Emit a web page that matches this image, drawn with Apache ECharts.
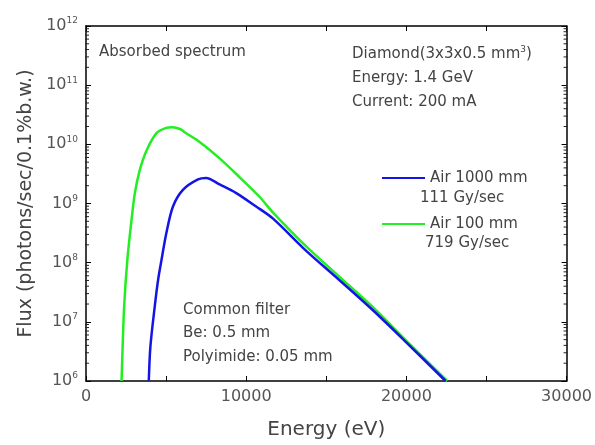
<!DOCTYPE html>
<html>
<head>
<meta charset="utf-8">
<script src="https://cdn.jsdelivr.net/npm/echarts@6/dist/echarts.min.js"></script>
<style>
  html, body { margin: 0; padding: 0; background: #fff; }
  #chartmain { width: 595px; height: 445px; }
</style>
</head>
<body>
<div id="chartmain"></div>
<script>
// Air 1000 mm (blue)
var blueEnergy = [3920, 4020, 4290, 4500, 4710, 5020, 5430, 6050, 6990, 7500, 8340, 9380, 10620, 11660, 13730, 15810, 17880, 19960, 22450];
var blueFlux   = [1.0e6, 3.8e6, 1.8e7, 5.1e7, 1.1e8, 3.2e8, 8.9e8, 1.7e9, 2.55e9, 2.7e9, 2.1e9, 1.5e9, 8.9e8, 5.6e8, 1.6e8, 5.1e7, 1.6e7, 4.6e6, 1.0e6];
// Air 100 mm (green)
var greenEnergy = [2220, 2280, 2380, 2580, 2840, 3050, 3360, 3780, 4400, 5000, 5400, 5900, 6160, 7090, 8340, 9580, 10830, 11660, 13730, 15810, 17880, 19960, 22550];
var greenFlux   = [1.0e6, 3.3e6, 1.8e7, 1.1e8, 5.2e8, 1.5e9, 3.7e9, 7.9e9, 1.55e10, 1.9e10, 1.95e10, 1.8e10, 1.6e10, 1.1e10, 5.8e9, 2.8e9, 1.3e9, 7.1e8, 1.9e8, 5.8e7, 1.8e7, 4.9e6, 1.0e6];

var seriesNames = ['Air 1000 mm', 'Air 100 mm'];
var doseLabels = ['111 Gy/sec', '719 Gy/sec'];
var infoLines = ['Diamond(3x3x0.5 mm{s|3})', 'Energy: 1.4 GeV', 'Current: 200 mA'];
var filterLines = ['Common filter', 'Be: 0.5 mm', 'Polyimide: 0.05 mm'];

// log minor tick values
var minorVals = [];
for (var d = 6; d < 12; d++) {
    for (var k = 2; k <= 9; k++) minorVals.push([0, k * Math.pow(10, d)]);
}

function zip(a, b) {
    var out = [];
    for (var i = 0; i < a.length; i++) out.push([a[i], b[i]]);
    return out;
}

var FONT = 'DejaVu Sans';
var TXT = '#444';
var TFONT = '15px "DejaVu Sans"';

function textLine(str, x, y) {
    return {
        type: 'text', x: x, y: y,
        style: {
            text: str, font: TFONT, fill: TXT, verticalAlign: 'middle',
            rich: { s: { fontSize: 9, fill: TXT, fontFamily: FONT, padding: [0, 0, 9, 0] } }
        }
    };
}

var graphics = [textLine('Absorbed spectrum', 99, 52)];
for (var i = 0; i < infoLines.length; i++) graphics.push(textLine(infoLines[i], 352, 54 + i * 24));
for (var j = 0; j < filterLines.length; j++) graphics.push(textLine(filterLines[j], 183, 310 + j * 23.5));
graphics.push(textLine(doseLabels[0], 420, 198));
graphics.push(textLine(doseLabels[1], 425, 243));

var axisLine = { show: true, onZero: false, lineStyle: { color: '#000', width: 1.5 } };
var axisTick = { inside: true, length: 5, lineStyle: { color: '#000' } };

var myChart = echarts.init(document.getElementById('chartmain'));

var option = {
    animation: false,
    textStyle: { fontFamily: FONT },
    grid: { left: 86, right: 27, top: 26, bottom: 64 },
    legend: {
        orient: 'vertical',
        left: 377,
        top: 164,
        itemWidth: 43,
        itemHeight: 14,
        itemGap: 28,
        icon: 'path://M0,0 L43,0 L43,2 L0,2 Z',
        textStyle: { fontFamily: FONT, fontSize: 15, lineHeight: 18, color: TXT },
        data: seriesNames
    },
    xAxis: [{
        type: 'value',
        min: 0, max: 30000, interval: 5000,
        name: 'Energy (eV)',
        nameLocation: 'middle',
        nameGap: 39,
        nameTextStyle: { fontSize: 20, color: TXT, fontFamily: FONT },
        axisLine: axisLine,
        axisTick: axisTick,
        axisLabel: {
            margin: 8, fontSize: 16, color: '#555', fontFamily: FONT,
            formatter: function (v) { return v % 10000 === 0 ? String(v) : ''; }
        },
        splitLine: { show: false }
    }, {
        type: 'value',
        position: 'top',
        min: 0, max: 30000, interval: 5000,
        axisLine: axisLine,
        axisTick: axisTick,
        axisLabel: { show: false },
        splitLine: { show: false }
    }],
    yAxis: [{
        type: 'log',
        logBase: 10,
        min: 1e6, max: 1e12,
        name: 'Flux (photons/sec/0.1%b.w.)',
        nameLocation: 'middle',
        nameGap: 49,
        nameTextStyle: { fontSize: 19, color: TXT, fontFamily: FONT },
        axisLine: axisLine,
        axisTick: axisTick,
        axisLabel: {
            margin: 8, color: '#555', fontFamily: FONT,
            formatter: function (v) {
                return '{b|10}{s|' + Math.round(Math.log10(v)) + '}';
            },
            rich: {
                b: { fontSize: 16, color: '#555', fontFamily: FONT },
                s: { fontSize: 9, color: '#555', fontFamily: FONT, padding: [0, 0, 10, 0] }
            }
        },
        splitLine: { show: false }
    }, {
        type: 'log',
        logBase: 10,
        min: 1e6, max: 1e12,
        position: 'right',
        axisLine: axisLine,
        axisTick: axisTick,
        axisLabel: { show: false },
        splitLine: { show: false }
    }],
    graphic: graphics,
    series: [
        {
            name: seriesNames[0],
            type: 'line',
            data: zip(blueEnergy, blueFlux),
            showSymbol: false,
            smooth: 0.3,
            lineStyle: { color: '#1414e6', width: 2.5 },
            itemStyle: { color: '#1414e6' },
            z: 3
        },
        {
            name: seriesNames[1],
            type: 'line',
            data: zip(greenEnergy, greenFlux),
            showSymbol: false,
            smooth: 0.3,
            lineStyle: { color: '#22ee22', width: 2.5 },
            itemStyle: { color: '#22ee22' },
            z: 2
        },
        {
            type: 'custom',
            silent: true,
            clip: false,
            data: minorVals,
            renderItem: function (params, api) {
                var v = api.value(1);
                var l = api.coord([0, v]);
                var r = api.coord([30000, v]);
                return {
                    type: 'group',
                    children: [
                        { type: 'line', shape: { x1: l[0] - 1, y1: l[1], x2: l[0] + 3, y2: l[1] }, style: { stroke: '#222', lineWidth: 1 } },
                        { type: 'line', shape: { x1: r[0] + 1, y1: r[1], x2: r[0] - 3, y2: r[1] }, style: { stroke: '#222', lineWidth: 1 } }
                    ]
                };
            }
        }
    ]
};

myChart.setOption(option);
</script>
</body>
</html>
